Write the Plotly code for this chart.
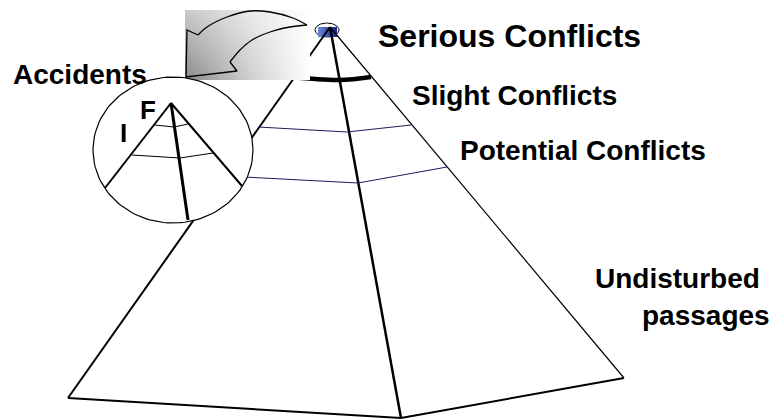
"""Conflict pyramid diagram rebuilt with Plotly"""
import numpy as np
import plotly.graph_objects as go

W, H = 773, 420

# main pyramid (pixel-like coordinates, y grows downwards)
apex = (330, 27)
base_x = [68, 401, 624]          # left, front, right corners
base_y = [398, 418, 378]
band_top_x = [291, 339, 371]     # thick "serious conflicts" band
band_top_y = [77, 80, 77]
level1_x = [258, 347, 411]
level1_y = [127, 132, 125]
level2_x = [225, 358, 447]
level2_y = [176, 183, 167]

# magnifier with the small pyramid
lens_center = (173, 150)
lens_radius = (80, 73)
mini_apex = (171, 103)
mini_base_x = [105, 188, 242]
mini_base_y = [188, 220, 186]
mini_level1_x = [155, 174, 188]
mini_level1_y = [125, 127, 124]
mini_level2_x = [132, 180, 213]
mini_level2_y = [155, 158, 153]

# top marker
top_center = (327, 30)
top_radius = (12, 7)
top_square_x = [318, 337]
top_square_y = [27, 37]

# curved arrow
arrow_upper_x = [307, 293, 270, 250, 227, 207, 198]
arrow_upper_y = [25, 18, 12, 11, 17, 27, 35]
arrow_head_x = [198, 187, 186, 237, 230]
arrow_head_y = [35, 30, 77, 71, 62]
arrow_lower_x = [230, 240, 252, 270, 290, 307]
arrow_lower_y = [62, 50, 40, 32, 27, 25]
shade_x = [185, 310]
shade_y = [10, 80]

labels = ["Serious Conflicts", "Slight Conflicts", "Potential Conflicts",
          "Undisturbed", "passages", "Accidents", "F", "I"]
label_x = [376, 410, 458, 593, 640, 11, 138, 118]
label_y = [36, 95, 150, 278, 315, 74, 110, 133]
label_size = [32, 28, 28, 28, 28, 28, 26, 26]


def ellipse(center, radius, n=120):
    t = np.linspace(0, 2 * np.pi, n)
    return center[0] + radius[0] * np.cos(t), center[1] + radius[1] * np.sin(t)


def line(fig, xs, ys, width=2, color='black', shape='linear'):
    fig.add_trace(go.Scatter(x=xs, y=ys, mode='lines', hoverinfo='skip',
                             line=dict(color=color, width=width, shape=shape)))


fig = go.Figure()

# top marker (under the edges)
ex, ey = ellipse(top_center, top_radius)
fig.add_trace(go.Scatter(x=ex, y=ey, mode='lines', fill='toself', fillcolor='white',
                         line=dict(color='black', width=1), hoverinfo='skip'))
sx = [top_square_x[0], top_square_x[1], top_square_x[1], top_square_x[0], top_square_x[0]]
sy = [top_square_y[0], top_square_y[0], top_square_y[1], top_square_y[1], top_square_y[0]]
fig.add_trace(go.Scatter(x=sx, y=sy, mode='lines', fill='toself', hoverinfo='skip',
                         line=dict(width=0),
                         fillgradient=dict(type='horizontal', start=318, stop=337,
                                           colorscale=[[0, '#7086d6'], [1, '#16238a']])))

# pyramid edges
line(fig, [apex[0], base_x[0]], [apex[1], base_y[0]], width=2)
line(fig, [apex[0], base_x[1]], [apex[1], base_y[1]], width=2.5)
line(fig, [apex[0], base_x[2]], [apex[1], base_y[2]], width=1.2)
line(fig, base_x, base_y, width=2)

# levels
line(fig, level1_x, level1_y, width=1, color='#1c1c5c')
line(fig, level2_x, level2_y, width=1, color='#1c1c5c')
line(fig, band_top_x, band_top_y, width=4.5, shape='spline')

# shaded block behind the arrow
rx = [shade_x[0], shade_x[1], shade_x[1], shade_x[0], shade_x[0]]
ry = [shade_y[0], shade_y[0], shade_y[1], shade_y[1], shade_y[0]]
fig.add_trace(go.Scatter(x=rx, y=ry, mode='lines', fill='toself', hoverinfo='skip',
                         line=dict(width=0),
                         fillgradient=dict(type='horizontal', start=shade_x[0], stop=shade_x[1],
                                           colorscale=[[0, '#8a8a8a'], [0.55, '#d2d2d2'],
                                                       [1, '#ffffff']])))
fig.add_trace(go.Scatter(x=rx, y=ry, mode='lines', fill='toself', hoverinfo='skip',
                         line=dict(width=0),
                         fillgradient=dict(type='vertical', start=shade_y[1], stop=shade_y[0],
                                           colorscale=[[0, 'rgba(255,255,255,0)'],
                                                       [1, 'rgba(255,255,255,0.55)']])))

# arrow outline
line(fig, arrow_upper_x, arrow_upper_y, width=1.3, shape='spline')
line(fig, arrow_head_x, arrow_head_y, width=1.3)
line(fig, arrow_lower_x, arrow_lower_y, width=1.3, shape='spline')

# magnifier
lx, ly = ellipse(lens_center, lens_radius)
fig.add_trace(go.Scatter(x=lx, y=ly, mode='lines', fill='toself', fillcolor='white',
                         line=dict(color='black', width=1.2), hoverinfo='skip'))
line(fig, [mini_apex[0], mini_base_x[0]], [mini_apex[1], mini_base_y[0]], width=2)
line(fig, [mini_apex[0], mini_base_x[1]], [mini_apex[1], mini_base_y[1]], width=3)
line(fig, [mini_apex[0], mini_base_x[2]], [mini_apex[1], mini_base_y[2]], width=2)
line(fig, mini_level1_x, mini_level1_y, width=1)
line(fig, mini_level2_x, mini_level2_y, width=1)

for txt, x, y, s in zip(labels, label_x, label_y, label_size):
    fig.add_annotation(x=x, y=y, text=f'<b>{txt}</b>', showarrow=False,
                       xanchor='left', yanchor='middle',
                       font=dict(family='Liberation Sans, Arial, sans-serif', size=s, color='black'))

fig.update_xaxes(range=[0, W], visible=False, fixedrange=True)
fig.update_yaxes(range=[H, 0], visible=False, fixedrange=True)
fig.update_layout(width=W, height=H, margin=dict(l=0, r=0, t=0, b=0),
                  plot_bgcolor='white', paper_bgcolor='white', showlegend=False)

# drop the browser's default body margin so the figure sits at the page corner
fig.write_html("out.html", config={'displayModeBar': False},
               post_script="document.body.style.margin='0';")
